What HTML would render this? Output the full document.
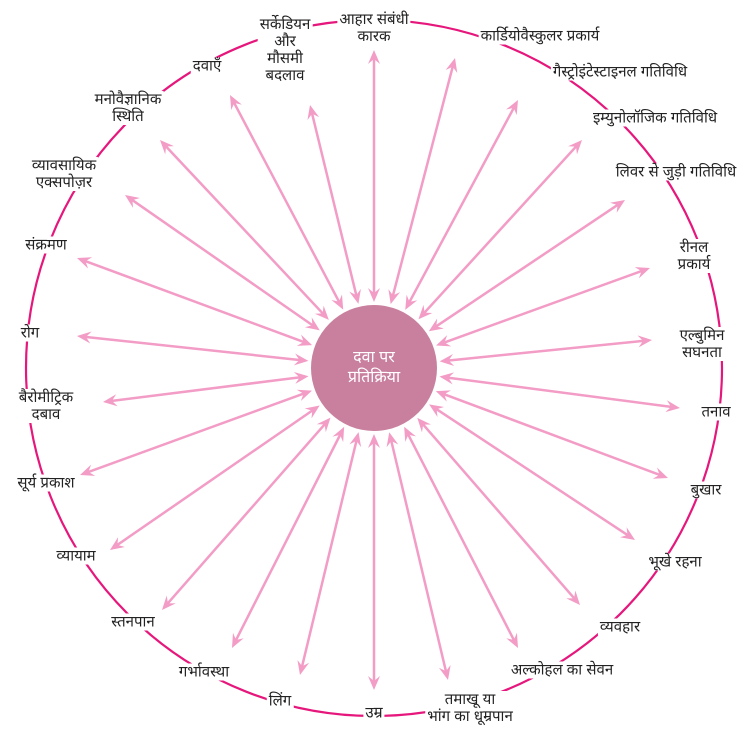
<!DOCTYPE html>
<html><head><meta charset="utf-8"><style>
body{margin:0;background:#fff;width:750px;height:740px;overflow:hidden;position:relative;font-family:"Liberation Sans","Noto Sans",sans-serif}
svg{position:absolute;left:0;top:0}
.l{position:absolute;background:#fff;color:#222;font-size:15px;line-height:17px;text-align:center;white-space:nowrap;padding:0 2px;transform:translate(-50%,-50%)}
.c{position:absolute;left:374px;top:368px;transform:translate(-50%,-50%);color:#fff;font-size:16px;line-height:20px;text-align:center}
</style></head><body>
<svg id="s" width="750" height="740">
<circle cx="374" cy="368" r="348" fill="none" stroke="#e6177c" stroke-width="2.2"/>
<g id="a"></g>
<circle cx="374" cy="368" r="63" fill="#c9809f"/>
</svg>
<div class="c">दवा पर<br>प्रतिक्रिया</div>
<div class="l" style="left:285px;top:50px">सर्केडियन<br>और<br>मौसमी<br>बदलाव</div>
<div class="l" style="left:374px;top:28px">आहार संबंधी<br>कारक</div>
<div class="l" style="left:540px;top:36px">कार्डियोवैस्कुलर प्रकार्य</div>
<div class="l" style="left:620px;top:72px">गैस्ट्रोइंटेस्टाइनल गतिविधि</div>
<div class="l" style="left:655px;top:118px">इम्युनोलॉजिक गतिविधि</div>
<div class="l" style="left:676px;top:172px">लिवर से जुड़ी गतिविधि</div>
<div class="l" style="left:694px;top:256px">रीनल<br>प्रकार्य</div>
<div class="l" style="left:702px;top:344px">एल्बुमिन<br>सघनता</div>
<div class="l" style="left:716px;top:412px">तनाव</div>
<div class="l" style="left:706px;top:490px">बुखार</div>
<div class="l" style="left:675px;top:562px">भूखे रहना</div>
<div class="l" style="left:620px;top:627px">व्यवहार</div>
<div class="l" style="left:562px;top:670px">अल्कोहल का सेवन</div>
<div class="l" style="left:470px;top:708px">तमाखू या<br>भांग का धूम्रपान</div>
<div class="l" style="left:374px;top:713px">उम्र</div>
<div class="l" style="left:280px;top:701px">लिंग</div>
<div class="l" style="left:204px;top:672px">गर्भावस्था</div>
<div class="l" style="left:133px;top:622px">स्तनपान</div>
<div class="l" style="left:76px;top:556px">व्यायाम</div>
<div class="l" style="left:46px;top:483px">सूर्य प्रकाश</div>
<div class="l" style="left:46px;top:406px">बैरोमीट्रिक<br>दबाव</div>
<div class="l" style="left:30px;top:333px">रोग</div>
<div class="l" style="left:46px;top:245px">संक्रमण</div>
<div class="l" style="left:64px;top:174px">व्यावसायिक<br>एक्सपोज़र</div>
<div class="l" style="left:128px;top:108px">मनोवैज्ञानिक<br>स्थिति</div>
<div class="l" style="left:207px;top:66px">दवाएँ</div>
<script>
var pts=[[310,105],[374,50],[455,58],[518,100],[582,140],[625,200],[650,268],[652,340],[680,408],[668,478],[635,540],[580,605],[518,648],[448,680],[374,690],[300,675],[232,648],[162,610],[110,550],[80,475],[103,402],[77,336],[77,258],[125,195],[160,140],[230,95]];
var cx=374,cy=368,g=document.getElementById('a'),h='';
function head(x,y,ux,uy){var px=-uy,py=ux,L=14,W=6,n=9;
return '<polygon fill="#f29cc6" points="'+x+','+y+' '+(x-ux*L+px*W)+','+(y-uy*L+py*W)+' '+(x-ux*n)+','+(y-uy*n)+' '+(x-ux*L-px*W)+','+(y-uy*L-py*W)+'"/>';}
pts.forEach(function(p){var dx=p[0]-cx,dy=p[1]-cy,d=Math.hypot(dx,dy),ux=dx/d,uy=dy/d;
var ix=cx+ux*66,iy=cy+uy*66;
h+='<line x1="'+(ix+ux*8)+'" y1="'+(iy+uy*8)+'" x2="'+(p[0]-ux*8)+'" y2="'+(p[1]-uy*8)+'" stroke="#f29cc6" stroke-width="2.5"/>';
h+=head(p[0],p[1],ux,uy)+head(ix,iy,-ux,-uy);});
g.innerHTML=h;
</script>
</body></html>
